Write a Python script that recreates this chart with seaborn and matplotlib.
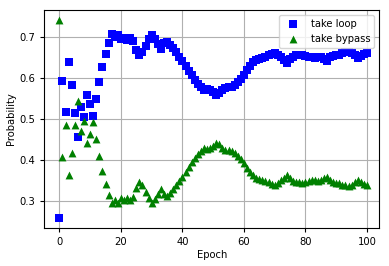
import numpy as np
import pandas as pd
import matplotlib
matplotlib.use("Agg")
import matplotlib.pyplot as plt
import seaborn as sns

# --- datos ---
epochs = list(range(101))

take_loop = [
    0.259, 0.592, 0.516, 0.638, 0.582, 0.514, 0.456, 0.529, 0.504, 0.558,
    0.536, 0.507, 0.549, 0.590, 0.626, 0.659, 0.685, 0.706, 0.699, 0.704,
    0.694, 0.697, 0.693, 0.698, 0.690, 0.669, 0.655, 0.662, 0.678, 0.694,
    0.705, 0.695, 0.682, 0.670, 0.684, 0.688, 0.680, 0.672, 0.662, 0.652,
    0.642, 0.630, 0.618, 0.606, 0.596, 0.586, 0.578, 0.571, 0.574, 0.570,
    0.566, 0.558, 0.562, 0.570, 0.575, 0.577, 0.578, 0.582, 0.590, 0.598,
    0.608, 0.620, 0.630, 0.638, 0.643, 0.646, 0.648, 0.652, 0.655, 0.658,
    0.660, 0.657, 0.650, 0.643, 0.636, 0.645, 0.652, 0.655, 0.655, 0.656,
    0.654, 0.651, 0.650, 0.649, 0.651, 0.650, 0.645, 0.642, 0.650, 0.654,
    0.657, 0.656, 0.660, 0.662, 0.664, 0.660, 0.655, 0.648, 0.653, 0.658,
    0.660,
]

take_bypass = [
    0.741, 0.408, 0.484, 0.362, 0.418, 0.486, 0.544, 0.471, 0.496, 0.442,
    0.464, 0.493, 0.451, 0.410, 0.374, 0.341, 0.315, 0.294, 0.301, 0.296,
    0.306, 0.303, 0.307, 0.302, 0.310, 0.331, 0.345, 0.338, 0.322, 0.306,
    0.295, 0.305, 0.318, 0.330, 0.316, 0.312, 0.320, 0.328, 0.338, 0.348,
    0.358, 0.370, 0.382, 0.394, 0.404, 0.414, 0.422, 0.429, 0.426, 0.430,
    0.434, 0.442, 0.438, 0.430, 0.425, 0.423, 0.422, 0.418, 0.410, 0.402,
    0.392, 0.380, 0.370, 0.362, 0.357, 0.354, 0.352, 0.348, 0.345, 0.342,
    0.340, 0.343, 0.350, 0.357, 0.364, 0.355, 0.348, 0.345, 0.345, 0.344,
    0.346, 0.349, 0.350, 0.351, 0.349, 0.350, 0.355, 0.358, 0.350, 0.346,
    0.343, 0.344, 0.340, 0.338, 0.336, 0.340, 0.345, 0.352, 0.347, 0.342,
    0.340,
]

df = pd.DataFrame({"Epoch": epochs, "loop": take_loop, "bypass": take_bypass})

# --- figura ---
plt.rcParams["font.family"] = ["DejaVu Sans"]
plt.rcParams["font.size"] = 7.2

fig = plt.figure(figsize=(3.89, 2.66), dpi=100)
ax = fig.add_axes([0.114, 0.143, 0.861, 0.820])

sns.scatterplot(data=df, x="Epoch", y="loop", marker="s", color="#0000ff",
                s=26, linewidth=0, label="take loop", ax=ax)
sns.scatterplot(data=df, x="Epoch", y="bypass", marker="^", color="#008000",
                s=32, linewidth=0, label="take bypass", ax=ax)

ax.set_xlim(-4.9, 104)
ax.set_ylim(0.234, 0.766)
ax.set_xticks([0, 20, 40, 60, 80, 100])
ax.set_yticks([0.3, 0.4, 0.5, 0.6, 0.7])
ax.set_xlabel("Epoch", labelpad=2.5)
ax.set_ylabel("Probability", labelpad=2.5)
ax.grid(True, color="#b0b0b0", linewidth=0.8)
ax.set_axisbelow(True)
ax.tick_params(length=3, width=0.8)

ax.legend(loc="upper right", frameon=True, fontsize=7.2)

fig.savefig("out.png", dpi=100)
